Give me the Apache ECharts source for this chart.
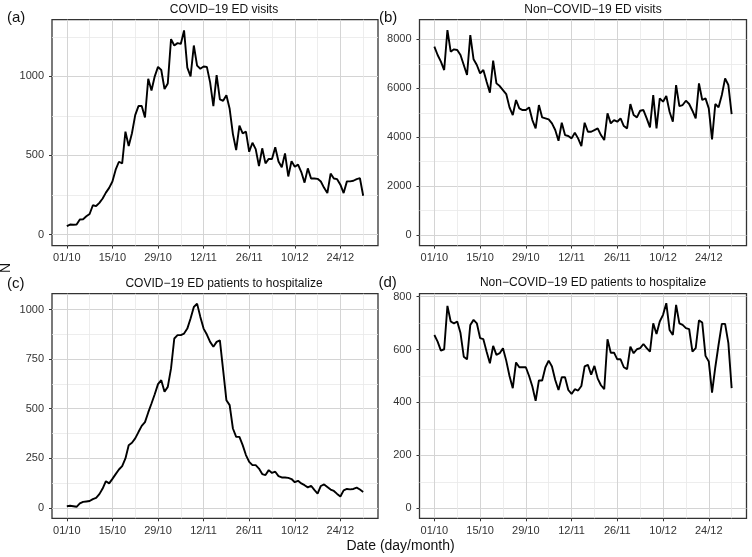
<!DOCTYPE html>
<html><head><meta charset="utf-8">
<script src="https://cdn.jsdelivr.net/npm/echarts@6/dist/echarts.min.js"></script>
<style>html,body{margin:0;padding:0;background:#fff}#c{width:752px;height:557px}</style>
</head><body><div id="c"></div>
<script>
// Day index 0 = 01/10 ... 91 = 31/12
const xTickDays = [0, 14, 28, 42, 56, 70, 84];
const xTickLabels = ['01/10', '15/10', '29/10', '12/11', '26/11', '10/12', '24/12'];
const xMinorDays = [7, 21, 35, 49, 63, 77, 91];

const panelTitles = ['COVID\u221219 ED visits', 'Non\u2212COVID\u221219 ED visits',
  'COVID\u221219 ED patients to hospitalize', 'Non\u2212COVID\u221219 ED patients to hospitalize'];
const panelTags = ['(a)', '(b)', '(c)', '(d)'];

const yTicksA = [0, 500, 1000];
const yTicksB = [0, 2000, 4000, 6000, 8000];
const yTicksC = [0, 250, 500, 750, 1000];
const yTicksD = [0, 200, 400, 600, 800];
const yMinorA = [250, 750, 1250];
const yMinorB = [1000, 3000, 5000, 7000];
const yMinorC = [125, 375, 625, 875];
const yMinorD = [100, 300, 500, 700];

const covidVisits = [53, 63, 62, 63, 95, 97, 115, 130, 185, 180, 200, 228, 265, 295, 335, 410, 460, 450, 650, 560,
  640, 755, 812, 812, 740, 985, 910, 1000, 1060, 1040, 920, 955, 1235, 1195, 1210, 1205, 1290, 1055, 1000, 1195,
  1068, 1048, 1062, 1060, 962, 812, 1008, 855, 845, 880, 795, 635, 534, 688, 640, 650, 523, 580, 540, 432,
  545, 450, 478, 477, 552, 462, 425, 513, 367, 464, 428, 442, 395, 328, 418, 354, 354, 352, 335, 295,
  262, 385, 354, 350, 315, 262, 336, 336, 340, 350, 356, 245];
const nonCovidVisits = [7703, 7362, 7089, 6748, 8384, 7498, 7594, 7566, 7362, 6953, 6544, 8180, 7185, 6953, 6612, 6748, 6271, 5821, 7130, 6203,
  6094, 5930, 5767, 5222, 4908, 5522, 5181, 5112, 5112, 5222, 4703, 4363, 5317, 4812, 4772, 4731, 4567, 4295, 3858, 4594,
  4090, 4050, 3954, 4185, 3954, 3640, 4594, 4226, 4226, 4295, 4363, 4090, 3885, 4976, 4567, 4703, 4635, 4772, 4458, 4363,
  5358, 4908, 4812, 5085, 5112, 4772, 4404, 5726, 4363, 5590, 5453, 5685, 5044, 4635, 6135, 5276, 5317, 5494, 5358, 5085,
  4772, 6203, 5522, 5590, 5181, 3913, 5358, 5222, 5726, 6408, 6135, 4949];
const covidHosp = [8, 10, 8, 5, 22, 30, 32, 34, 44, 50, 69, 97, 134, 123, 146, 170, 193, 210, 249, 316,
  328, 350, 382, 413, 432, 481, 526, 573, 624, 644, 585, 610, 703, 854, 871, 871, 879, 904, 955, 1013,
  1030, 963, 904, 874, 837, 812, 837, 845, 694, 543, 518, 400, 358, 358, 316, 266, 232, 215, 215, 198,
  170, 165, 190, 176, 182, 160, 153, 153, 151, 145, 129, 136, 123, 114, 103, 111, 90, 72, 110, 118,
  105, 92, 85, 70, 57, 88, 95, 93, 95, 102, 92, 80];
const nonCovidHosp = [655, 630, 596, 601, 765, 706, 699, 706, 662, 573, 563, 693, 712, 699, 643, 639, 592, 548, 614, 580,
  586, 605, 558, 500, 454, 551, 533, 533, 533, 500, 460, 406, 483, 483, 533, 558, 536, 485, 447, 495,
  495, 447, 432, 450, 445, 462, 536, 542, 505, 538, 490, 465, 450, 639, 588, 588, 563, 563, 533, 526,
  611, 586, 601, 605, 621, 605, 592, 699, 659, 706, 731, 775, 674, 655, 769, 699, 693, 681, 677, 592,
  605, 710, 702, 576, 555, 437, 533, 618, 697, 697, 624, 454];

const FONT = '"Liberation Sans", Arial, Helvetica, sans-serif';
const panels = [
  { rect: { left: 52, top: 19.7, width: 326, height: 225.9 }, ymin: -70, ymax: 1358, yt: yTicksA, ym: yMinorA, data: covidVisits },
  { rect: { left: 419.5, top: 19.7, width: 327, height: 225.9 }, ymin: -430, ymax: 8806, yt: yTicksB, ym: yMinorB, data: nonCovidVisits },
  { rect: { left: 52, top: 293.7, width: 326, height: 224.6 }, ymin: -53, ymax: 1080, yt: yTicksC, ym: yMinorC, data: covidHosp },
  { rect: { left: 419.5, top: 293.7, width: 327, height: 224.6 }, ymin: -38, ymax: 811, yt: yTicksD, ym: yMinorD, data: nonCovidHosp }
];

const grid = [], xAxis = [], yAxis = [], series = [];
const majorColor = '#d4d4d4', minorColor = '#e8e8e8';
panels.forEach((p, k) => {
  grid.push(Object.assign({ show: true, borderColor: '#333', borderWidth: 1.3, backgroundColor: '#fff' }, p.rect));
  xAxis.push({
    gridIndex: k, type: 'value', min: -4.55, max: 95.55, position: 'bottom',
    axisLine: { show: false, onZero: false },
    axisTick: { show: true, inside: false, length: 3, lineStyle: { color: '#333', width: 1 }, customValues: xTickDays },
    axisLabel: { customValues: xTickDays, color: '#333', fontSize: 11, fontFamily: FONT, margin: 7,
      formatter: v => xTickLabels[xTickDays.indexOf(v)] },
    splitLine: { show: true, lineStyle: { color: majorColor, width: 1 } }
  });
  xAxis.push({
    gridIndex: k, type: 'value', min: -4.55, max: 95.55, position: 'top',
    axisLine: { show: false, onZero: false }, axisLabel: { show: false },
    axisTick: { show: false, customValues: xMinorDays },
    splitLine: { show: true, lineStyle: { color: minorColor, width: 0.8 } }
  });
  yAxis.push({
    gridIndex: k, type: 'value', min: p.ymin, max: p.ymax, position: 'left',
    axisLine: { show: false, onZero: false },
    axisTick: { show: true, inside: false, length: 3, lineStyle: { color: '#333', width: 1 }, customValues: p.yt },
    axisLabel: { customValues: p.yt, color: '#333', fontSize: 11, fontFamily: FONT, margin: 8,
      formatter: v => String(v) },
    splitLine: { show: true, lineStyle: { color: majorColor, width: 1 } }
  });
  yAxis.push({
    gridIndex: k, type: 'value', min: p.ymin, max: p.ymax, position: 'right',
    axisLine: { show: false, onZero: false }, axisLabel: { show: false },
    axisTick: { show: false, customValues: p.ym },
    splitLine: { show: true, lineStyle: { color: minorColor, width: 0.8 } }
  });
  series.push({
    type: 'line', xAxisIndex: 2 * k, yAxisIndex: 2 * k, showSymbol: false, silent: true,
    lineStyle: { color: '#000', width: 1.9 }, itemStyle: { color: '#000' },
    data: p.data.map((v, i) => [i, v]), z: 5
  });
});

const txt = (x, y, text, size, align, extra) => Object.assign({
  type: 'text', x: x, y: y, silent: true,
  style: { text: text, fill: '#111', font: size + 'px ' + FONT, textAlign: align, textVerticalAlign: 'middle' }
}, extra || {});

const graphic = [
  txt(224, 9.5, panelTitles[0], 12, 'center'),
  txt(593, 9.5, panelTitles[1], 12, 'center'),
  txt(224, 283.5, panelTitles[2], 12, 'center'),
  txt(593, 283, panelTitles[3], 12, 'center'),
  txt(7, 17.5, panelTags[0], 15, 'left'),
  txt(379, 17.5, panelTags[1], 15, 'left'),
  txt(7, 284, panelTags[2], 15, 'left'),
  txt(378.5, 283, panelTags[3], 15, 'left'),
  txt(6.5, 268, 'N', 14, 'center', { rotation: Math.PI / 2 }),
  txt(400.5, 546, 'Date (day/month)', 14, 'center')
];

const chart = echarts.init(document.getElementById('c'), null, { renderer: 'canvas' });
chart.setOption({ animation: false, backgroundColor: '#fff', grid, xAxis, yAxis, series, graphic });
</script></body></html>
